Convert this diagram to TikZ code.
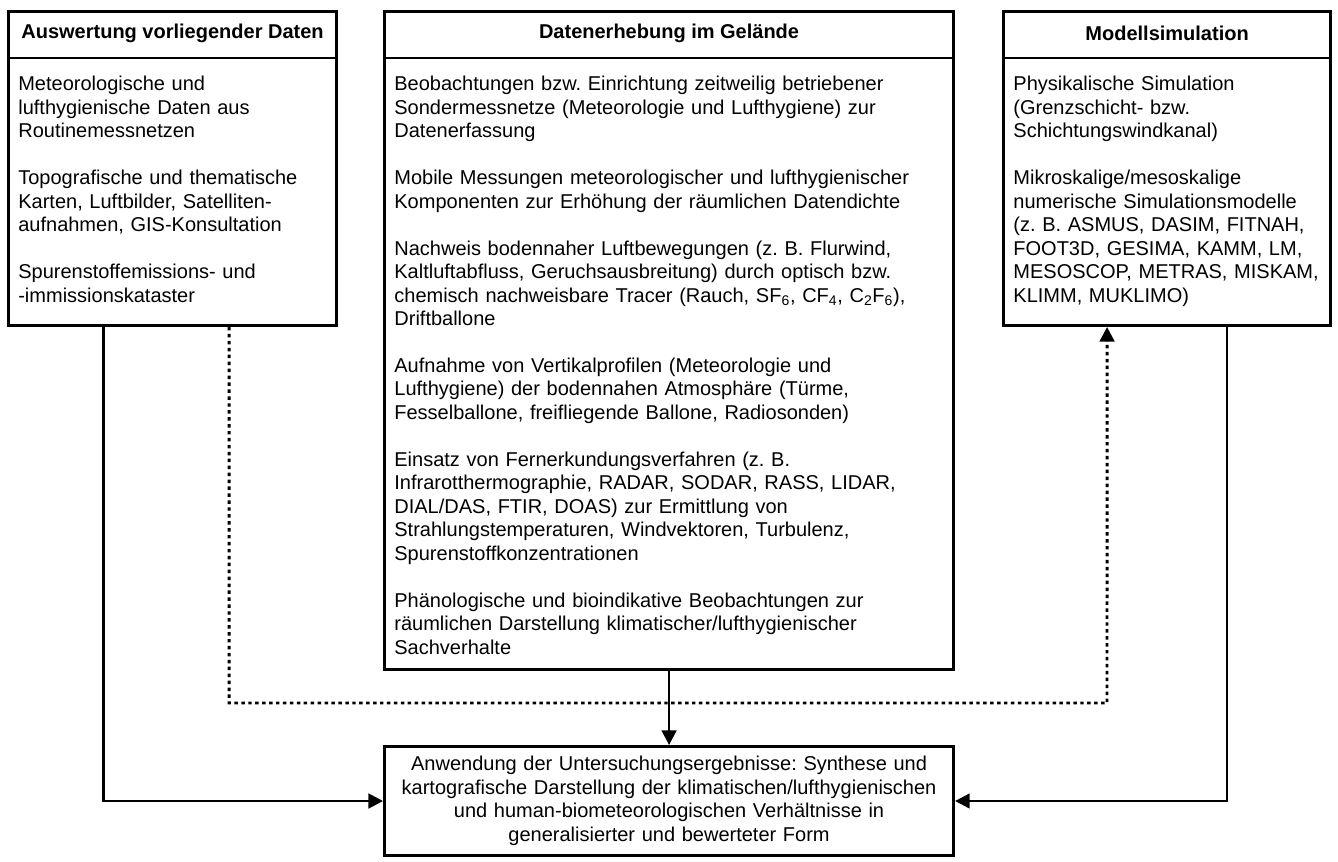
\documentclass[tikz,border=0pt]{standalone}
\usepackage{fontspec}
\setmainfont{Liberation Sans}
\usepackage{tikz}
\usetikzlibrary{positioning,arrows.meta}
\frenchspacing

\newcommand{\boxfont}{\fontsize{15}{17.6}\selectfont}
\newcommand{\blankline}{\\[\baselineskip]}

\begin{document}
\begin{tikzpicture}[x=0.75pt,y=-0.75pt,->,>={Triangle[length=11pt,width=11pt]},
  line width=2pt,
  frame/.style={draw,line width=2.4pt,inner sep=0pt},
  head/.style={inner sep=0pt,minimum height=33.75pt,anchor=north,font=\boxfont\bfseries},
  body/.style={inner sep=0pt,align=left,font=\boxfont},
  dotline/.style={line width=2.2pt,dash pattern=on 2.6pt off 2.6pt}]

  \path[fill=white,use as bounding box] (0,0) rectangle (1338,861);

  % the three columns
  \node[frame,minimum width=245.9pt,minimum height=235.35pt,anchor=north west] (ausw) at (7,10) {};
  \node[frame,minimum width=426.6pt,minimum height=493.35pt,below right=0pt and 33.75pt of ausw.north east] (daten) {};
  \node[frame,minimum width=245.1pt,minimum height=235.35pt,below right=0pt and 35.25pt of daten.north east] (modell) {};
  \node[frame,minimum width=426.6pt,minimum height=81.6pt,below=55.5pt of daten,align=center,font=\boxfont,text width=425pt] (anw)
    {Anwendung der Untersuchungsergebnisse: Synthese und\\
     kartografische Darstellung der klimatischen/lufthygienischen\\
     und human-biometeorologischen Verhältnisse in\\
     generalisierter und bewerteter Form};

  \node[head] (ausw-hd) at (ausw.north) {Auswertung vorliegender Daten};
  \node[head] (daten-hd) at (daten.north) {Datenerhebung im Gelände};
  \node[head] (modell-hd) at (modell.north) {Modellsimulation};

  \path[-,line width=1.6pt]
    (ausw.west |- ausw-hd.south) edge (ausw.east |- ausw-hd.south)
    (daten.west |- daten-hd.south) edge (daten.east |- daten-hd.south)
    (modell.west |- modell-hd.south) edge (modell.east |- modell-hd.south);

  \node[body,text width=240pt,below right=13pt and 7.5pt of ausw.west |- ausw-hd.south] (ausw-tx)
    {Meteorologische und\\ lufthygienische Daten aus\\ Routinemessnetzen\blankline
     Topografische und thematische\\ Karten, Luftbilder, Satelliten-\\ aufnahmen, GIS-Konsultation\blankline
     Spurenstoffemissions- und\\ -immissionskataster};

  \node[body,text width=420pt,below right=13pt and 7.5pt of daten.west |- daten-hd.south] (daten-tx)
    {Beobachtungen bzw. Einrichtung zeitweilig betriebener\\
     Sondermessnetze (Meteorologie und Lufthygiene) zur\\ Datenerfassung\blankline
     Mobile Messungen meteorologischer und lufthygienischer\\
     Komponenten zur Erhöhung der räumlichen Datendichte\blankline
     Nachweis bodennaher Luftbewegungen (z. B. Flurwind,\\
     Kaltluftabfluss, Geruchsausbreitung) durch optisch bzw.\\
     chemisch nachweisbare Tracer (Rauch, SF\textsubscript{6}, CF\textsubscript{4}, C\textsubscript{2}F\textsubscript{6}),\\
     Driftballone\blankline
     Aufnahme von Vertikalprofilen (Meteorologie und\\
     Lufthygiene) der bodennahen Atmosphäre (Türme,\\
     Fesselballone, freifliegende Ballone, Radiosonden)\blankline
     Einsatz von Fernerkundungsverfahren (z. B.\\
     Infrarotthermographie, RADAR, SODAR, RASS, LIDAR,\\
     DIAL/DAS, FTIR, DOAS) zur Ermittlung von\\
     Strahlungstemperaturen, Windvektoren, Turbulenz,\\
     Spurenstoffkonzentrationen\blankline
     Phänologische und bioindikative Beobachtungen zur\\
     räumlichen Darstellung klimatischer/lufthygienischer\\
     Sachverhalte};

  \node[body,text width=240pt,below right=13pt and 7.5pt of modell.west |- modell-hd.south] (modell-tx)
    {Physikalische Simulation\\ (Grenzschicht- bzw.\\ Schichtungswindkanal)\blankline
     Mikroskalige/mesoskalige\\ numerische Simulationsmodelle\\ (z. B. ASMUS, DASIM, FITNAH,\\
     FOOT3D, GESIMA, KAMM, LM,\\ MESOSCOP, METRAS, MISKAM,\\ KLIMM, MUKLIMO)};

  % connectors
  \coordinate (knick) at (1107,703);
  \draw ([xshift=-52pt]ausw.south) |- (anw.west);
  \draw[dotline] ([xshift=42.4pt]ausw.south) |- (knick) -- ([xshift=-45pt]modell.south);
  \draw (daten.south) -- (anw.north);
  \draw ([xshift=45pt]modell.south) |- (anw.east);

\end{tikzpicture}
\end{document}
